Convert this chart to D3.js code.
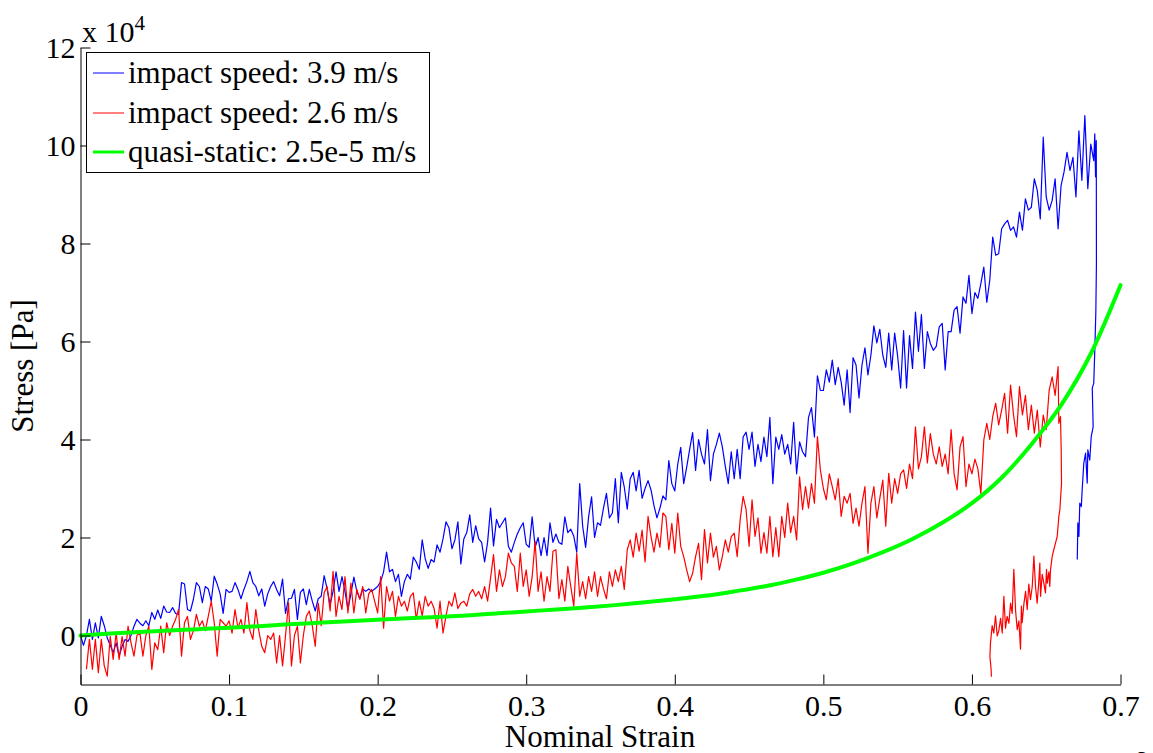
<!DOCTYPE html>
<html>
<head>
<meta charset="utf-8">
<script src="https://cdn.jsdelivr.net/npm/d3@7"></script>
<style>
  html, body { margin: 0; padding: 0; background: #ffffff; }
  svg { display: block; }
  text { font-family: "Liberation Serif", "Times New Roman", serif; fill: #000; }
</style>
</head>
<body>
<svg id="chart" width="1153" height="753"></svg>
<script>
// ---------------- DATA (stress in units of 10^4 Pa) ----------------
const seriesNames = ["impact speed: 3.9 m/s", "impact speed: 2.6 m/s", "quasi-static: 2.5e-5 m/s"];
const xTicks = [0, 0.1, 0.2, 0.3, 0.4, 0.5, 0.6, 0.7];
const yTicks = [0, 2, 4, 6, 8, 10, 12];
const strainStep = 0.002;

// Blue: sampled every 0.002 strain starting at 0
const blueStart = 0;
const blueStress = [
  0.0, -0.2, 0.0, 0.33, -0.08, 0.26, -0.05, 0.39, 0.2, -0.05,
  -0.2, -0.35, -0.15, -0.42, -0.22, -0.08, -0.12, 0.0, 0.19, 0.33,
  0.25, 0.2, 0.3, 0.2, 0.47, 0.33, 0.52, 0.35, 0.6, 0.48,
  0.47, 0.57, 0.45, 0.43, 1.08, 1.05, 0.53, 0.5, 0.74, 1.08,
  1.0, 0.67, 1.0, 0.95, 0.7, 1.21, 1.05, 0.85, 0.45, 0.94,
  0.88, 0.9, 1.08, 0.94, 0.75, 0.94, 1.1, 1.31, 1.08, 1.0,
  0.81, 0.95, 0.6, 0.85, 1.0, 1.1, 0.94, 0.81, 1.15, 0.45,
  0.75, 0.76, 0.94, 0.33, 0.88, 0.95, 0.63, 0.94, 0.7, 0.5,
  0.75, 0.8, 1.22, 0.95, 0.63, 0.9, 1.3, 0.9, 1.2, 0.9,
  0.54, 0.85, 1.19, 0.9, 0.75, 0.95, 0.9, 0.95, 0.9, 0.95,
  1.0, 1.1, 1.3, 1.7, 1.3, 1.35, 1.1, 1.25, 0.8, 1.1,
  1.25, 1.15, 1.6, 1.5, 1.35, 1.95, 1.57, 1.37, 1.55, 1.5,
  1.85, 1.7, 1.97, 2.32, 2.2, 1.77, 1.95, 2.32, 1.46, 1.97,
  2.1, 2.46, 1.9, 2.24, 1.97, 1.9, 1.5, 1.9, 2.6, 1.83,
  2.37, 2.2, 2.3, 2.4, 1.82, 1.7, 1.9, 2.07, 2.2, 2.3,
  1.86, 1.8, 2.42, 1.8, 2.0, 1.63, 2.0, 1.63, 2.3, 1.9,
  2.07, 1.9, 1.86, 2.42, 2.1, 2.17, 2.03, 1.7, 3.1, 2.23,
  1.8, 2.42, 2.83, 2.0, 2.3, 2.25, 2.6, 2.9, 2.4, 2.5,
  3.2, 2.3, 3.33, 3.03, 2.58, 3.2, 3.33, 2.95, 3.37, 2.8,
  3.0, 3.16, 2.97, 2.65, 2.4, 2.6, 2.85, 2.77, 3.57, 3.1,
  2.95, 3.5, 3.84, 3.1, 3.43, 3.8, 4.14, 3.37, 4.0, 3.7,
  3.5, 4.2, 3.16, 3.7, 3.9, 4.13, 3.85, 3.45, 3.1, 3.75,
  3.2, 3.8, 3.2, 4.05, 4.15, 3.8, 4.15, 3.45, 3.9, 3.55,
  4.05, 3.65, 4.45, 3.1, 4.05, 3.8, 4.1, 3.7, 3.9, 3.5,
  4.35, 3.3, 3.95, 3.75, 3.65, 4.45, 4.65, 4.05, 5.3, 5.0,
  5.0, 5.42, 5.17, 5.62, 5.12, 5.47, 5.17, 4.7, 5.42, 4.55,
  5.67, 5.52, 4.85, 5.52, 5.87, 5.32, 5.72, 6.32, 5.97, 6.25,
  5.72, 5.47, 6.17, 5.42, 6.17, 5.7, 5.05, 6.22, 5.05, 6.12,
  5.45, 6.6, 5.8, 6.55, 5.45, 6.2, 5.96, 5.82, 5.9, 6.3,
  6.37, 5.42, 6.2, 6.2, 6.64, 6.71, 6.17, 6.91, 6.78, 7.35,
  6.57, 7.0, 6.88, 7.18, 7.52, 6.8, 7.25, 8.13, 7.76, 7.79,
  8.3, 8.4, 8.47, 8.27, 8.34, 8.13, 8.64, 8.27, 8.91, 8.68,
  8.74, 9.32, 9.08, 8.5, 10.17, 8.95, 8.68, 8.88, 9.32, 8.3,
  9.18, 9.46, 9.86, 9.49, 9.76, 8.95, 10.3, 9.29, 10.61, 9.12,
  10.03, 9.69
];
// Blue unloading tail: [strain, stress]
const blueTail = [
  [0.6827, 10.24], [0.6832, 9.36], [0.6837, 10.1], [0.6838, 7.6], [0.6834, 6.6],
  [0.6827, 5.82], [0.6820, 5.15], [0.6810, 5.05], [0.6816, 4.26], [0.6803, 4.06],
  [0.6793, 3.58], [0.6780, 3.79], [0.6776, 3.11], [0.6765, 3.72], [0.6753, 3.52],
  [0.6742, 2.97], [0.6736, 2.63], [0.6726, 2.70], [0.6720, 2.02], [0.6713, 2.30],
  [0.6709, 1.55]
];

// Red: sampled every 0.002 strain starting at 0.004
const redStart = 0.004;
const redStress = [
  -0.69, -0.08, -0.69, -0.08, -0.76, -0.08, -0.62, -0.83, -0.02, -0.49,
  0.05, -0.49, -0.02, -0.42, 0.19, -0.15, -0.42, 0.0, 0.05, -0.42,
  0.0, 0.19, -0.69, -0.15, -0.29, 0.19, -0.35, 0.26, 0.0, 0.19,
  0.33, 0.53, -0.42, 0.26, 0.39, -0.08, 0.1, 0.43, 0.19, 0.3,
  0.1, 0.39, 0.7, 0.26, -0.42, 0.33, 0.26, 0.19, 0.3, 0.05,
  0.53, 0.15, 0.33, 0.05, 0.67, 0.1, -0.08, 0.53, 0.1, -0.22,
  -0.35, 0.0, -0.08, 0.05, -0.56, 0.0, -0.62, 0.0, 0.67, -0.62,
  0.0, 0.19, -0.56, 0.0, 0.39, 0.5, 0.2, -0.22, 0.66, 0.2,
  0.87, 1.0, 0.5, 1.31, 0.39, 0.8, 0.53, 1.2, 0.46, 1.07,
  0.46, 0.94, 0.74, 1.0, 0.46, 0.85, 0.94, 0.7, 0.46, 1.2,
  0.15, 1.0, 0.7, 0.9, 0.39, 0.8, 0.6, 0.7, 0.5, 0.8,
  0.87, 0.33, 0.7, 0.4, 0.8, 0.6, 0.7, 0.55, 0.15, 0.7,
  0.05, 0.4, 0.7, 0.6, 0.87, 0.55, 0.66, 0.7, 0.6, 0.85,
  0.94, 0.8, 0.9, 0.75, 1.0, 0.7, 1.17, 1.65, 0.9, 1.34,
  1.0, 1.2, 1.68, 1.48, 1.41, 0.9, 1.68, 1.0, 1.34, 0.8,
  1.2, 1.92, 0.9, 1.3, 0.7, 1.2, 0.9, 1.72, 1.75, 0.75,
  1.14, 0.7, 1.41, 1.0, 0.6, 1.68, 0.8, 1.1, 0.75, 1.2,
  0.9, 1.3, 0.8, 1.2, 0.95, 0.75, 1.3, 1.0, 1.34, 1.1,
  1.41, 0.94, 1.75, 1.95, 1.6, 2.09, 1.72, 2.15, 1.5, 2.43,
  2.02, 1.7, 2.09, 1.8, 2.5, 2.43, 1.75, 2.29, 1.68, 2.5,
  1.82, 1.61, 1.34, 1.1, 1.27, 1.61, 1.88, 1.14, 2.16, 1.48,
  2.09, 1.6, 1.82, 1.34, 1.61, 1.95, 1.7, 2.02, 2.09, 1.61,
  2.36, 2.84, 2.57, 1.82, 2.77, 2.02, 2.4, 1.68, 2.1, 1.68,
  2.43, 1.61, 2.2, 1.61, 2.43, 2.0, 2.7, 2.1, 2.43, 1.95,
  3.24, 2.57, 3.04, 2.6, 3.1, 2.7, 4.06, 3.38, 3.0, 2.77,
  3.3, 3.04, 2.77, 3.2, 2.43, 2.84, 2.7, 2.9, 2.29, 2.6,
  2.23, 2.7, 3.04, 1.68, 2.7, 3.04, 2.4, 2.8, 3.17, 2.23,
  3.31, 2.7, 3.2, 2.9, 3.3, 3.38, 3.0, 3.5, 3.2, 4.26,
  3.4, 3.65, 4.26, 3.52, 4.12, 3.7, 3.5, 3.85, 3.45, 3.7,
  3.3, 4.2, 3.3, 2.97, 3.85, 4.06, 3.04, 3.5, 3.3, 3.6,
  3.4, 2.9, 3.99, 4.33, 4.0, 4.47, 4.74, 4.3, 4.6, 4.94,
  4.13, 5.11, 4.5, 4.06, 5.08, 4.5, 4.9, 4.2, 4.7, 4.13,
  4.6, 3.85, 4.5, 4.2, 5.01, 5.28, 4.9, 5.49
];
// Red unloading branch: [strain, stress]
const redTail = [
  [0.6585, 4.33], [0.6596, 4.47], [0.6601, 3.79], [0.6603, 3.10], [0.6596, 2.77],
  [0.6592, 2.57], [0.6585, 2.43], [0.6574, 2.02], [0.6563, 1.89], [0.6551, 1.75],
  [0.6540, 1.61], [0.6529, 1.34], [0.6524, 1.00], [0.6518, 1.30], [0.6507, 1.07],
  [0.6502, 1.35], [0.6495, 0.87], [0.6484, 1.07], [0.6473, 1.25], [0.6462, 0.80],
  [0.6457, 1.48], [0.6450, 1.10], [0.6439, 0.66], [0.6428, 1.00], [0.6417, 1.62],
  [0.6406, 1.00], [0.6394, 0.73], [0.6383, 1.05], [0.6372, 0.53], [0.6361, 0.90],
  [0.6350, 0.65], [0.6338, 0.26], [0.6333, 0.60], [0.6327, -0.28], [0.6316, 0.30],
  [0.6305, 0.12], [0.6294, 0.50], [0.6282, 1.35], [0.6271, 0.45], [0.6260, 0.66],
  [0.6249, 0.25], [0.6237, 0.39], [0.6226, 0.15], [0.6215, 0.80], [0.6204, 0.05],
  [0.6193, 0.35], [0.6181, 0.10], [0.6170, -0.01], [0.6159, 0.40], [0.6147, 0.05],
  [0.6136, 0.20], [0.6125, -0.15], [0.6121, -0.42], [0.6129, -0.69], [0.6131, -0.84]
];

// Green quasi-static curve
const greenStrain = [0, 0.02, 0.04, 0.06, 0.08, 0.1, 0.12, 0.14, 0.16, 0.18, 0.2, 0.22, 0.24, 0.26, 0.28, 0.3,
  0.32, 0.34, 0.36, 0.38, 0.4, 0.42, 0.44, 0.46, 0.48, 0.5, 0.52, 0.54, 0.56, 0.58, 0.6, 0.62, 0.64, 0.66, 0.68, 0.7];
const greenStress = [0, 0.04, 0.07, 0.1, 0.13, 0.16, 0.19, 0.23, 0.26, 0.29, 0.32, 0.35, 0.38, 0.41, 0.45, 0.49,
  0.53, 0.57, 0.62, 0.68, 0.74, 0.81, 0.9, 1.0, 1.13, 1.28, 1.47, 1.7, 1.97, 2.3, 2.7, 3.22, 3.9, 4.7, 5.75, 7.15];

// ---------------- CHART ----------------
(function () {
  const svg = d3.select("#chart");
  const pLeft = 80.5, pRight = 1120.5, pTop = 47.5, pBottom = 684.5;

  const x = d3.scaleLinear().domain([0, 0.7]).range([pLeft, pRight]);
  const y = d3.scaleLinear().domain([-1, 12]).range([pBottom, pTop]);

  const bluePts = blueStress.map((v, i) => [blueStart + i * strainStep, v]).concat(blueTail);
  const redPts = redStress.map((v, i) => [redStart + i * strainStep, v]).concat(redTail);
  const greenPts = greenStrain.map((s, i) => [s, greenStress[i]]);

  const line = d3.line().x(d => x(d[0])).y(d => y(d[1]));
  const smooth = d3.line().x(d => x(d[0])).y(d => y(d[1])).curve(d3.curveMonotoneX);

  svg.append("rect").attr("width", 1153).attr("height", 753).attr("fill", "#fff");

  svg.append("path").datum(bluePts).attr("d", line)
    .attr("fill", "none").attr("stroke", "#0000ff").attr("stroke-width", 1.2).attr("stroke-linejoin", "round");
  svg.append("path").datum(redPts).attr("d", line)
    .attr("fill", "none").attr("stroke", "#ff0000").attr("stroke-width", 1.2).attr("stroke-linejoin", "round");
  svg.append("path").datum(greenPts).attr("d", smooth)
    .attr("fill", "none").attr("stroke", "#00ff00").attr("stroke-width", 4).attr("stroke-linecap", "round");

  // Axes
  const xAxis = d3.axisBottom(x).tickValues(xTicks)
    .tickFormat(d => d === 0 ? "0" : d3.format(".1f")(d))
    .tickSizeInner(-10).tickSizeOuter(0).tickPadding(10);
  const yAxis = d3.axisLeft(y).tickValues(yTicks)
    .tickFormat(d => String(d))
    .tickSizeInner(-10).tickSizeOuter(0).tickPadding(5);

  const gx = svg.append("g").attr("transform", `translate(0,${pBottom})`).call(xAxis);
  const gy = svg.append("g").attr("transform", `translate(${pLeft},0)`).call(yAxis);
  [gx, gy].forEach(g => {
    g.select(".domain").attr("stroke", "#000").attr("stroke-width", 1);
    g.selectAll(".tick line").attr("stroke", "#000").attr("stroke-width", 1);
    g.selectAll(".tick text").attr("font-family", "Liberation Serif, Times New Roman, serif")
      .attr("font-size", 30).attr("fill", "#000");
  });

  // Axis labels
  svg.append("text").attr("x", 600).attr("y", 747).attr("text-anchor", "middle")
    .attr("font-size", 31).text("Nominal Strain");
  svg.append("text").attr("transform", "translate(33,366) rotate(-90)").attr("text-anchor", "middle")
    .attr("font-size", 31).text("Stress [Pa]");

  // Exponent label
  const ex = svg.append("text").attr("x", 82).attr("y", 42).attr("font-size", 30);
  ex.append("tspan").text("x 10");
  ex.append("tspan").attr("dy", -12).attr("font-size", 21).text("4");

  // partially visible exponent at bottom right
  svg.append("text").attr("x", 1137).attr("y", 766).attr("font-size", 21).text("3");

  // Legend
  const lg = svg.append("g");
  lg.append("rect").attr("x", 86.5).attr("y", 52.5).attr("width", 343).attr("height", 120)
    .attr("fill", "#fff").attr("stroke", "#000").attr("stroke-width", 1);
  const legColors = ["#0000ff", "#ff0000", "#00ff00"];
  const legWidths = [1, 1, 3];
  const legRowY = [73, 113, 152];
  seriesNames.forEach((name, i) => {
    lg.append("line").attr("x1", 93).attr("x2", 124).attr("y1", legRowY[i]).attr("y2", legRowY[i])
      .attr("stroke", legColors[i]).attr("stroke-width", legWidths[i]);
    lg.append("text").attr("x", 128).attr("y", legRowY[i] + 10).attr("font-size", 31).text(name);
  });
})();
</script>
</body>
</html>
